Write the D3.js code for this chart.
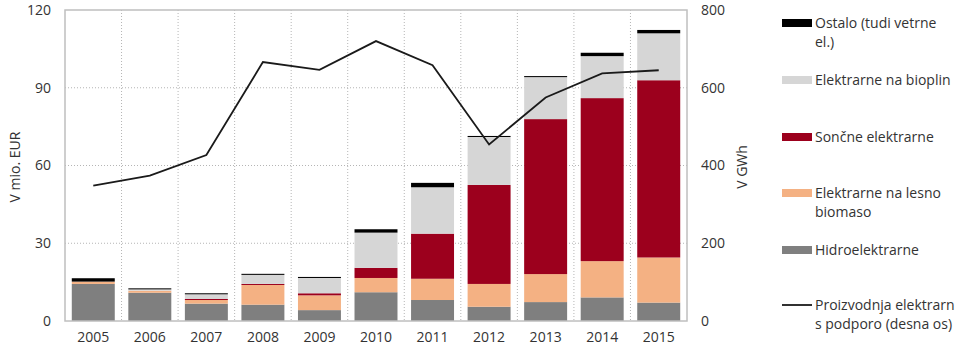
<!DOCTYPE html>
<meta charset="utf-8">
<script src="https://d3js.org/d3.v7.min.js"></script>
<style>
  body { margin: 0; background: #fff; }
  text { font-family: "Open Sans", sans-serif; fill: #333; }
</style>
<div id="chart"></div>
<script>

    // data (bars in mio. EUR, line in GWh)
    var years = ["2005", "2006", "2007", "2008", "2009", "2010", "2011", "2012", "2013", "2014", "2015"];
    var hydro   = [14.3, 10.9, 6.7, 6.3, 4.2, 11.1, 8.1, 5.5, 7.3, 9.1, 7.1];
    var biomass = [0.9, 0.8, 1.4, 7.6, 5.7, 5.5, 8.2, 8.8, 10.8, 14.0, 17.4];
    var solar   = [0, 0, 0.4, 0.4, 0.8, 3.9, 17.4, 38.2, 59.8, 62.9, 68.4];
    var biogas  = [0, 0.5, 1.8, 3.5, 5.9, 13.6, 17.9, 18.5, 16.2, 16.2, 18.1];
    var other   = [1.3, 0.4, 0.4, 0.4, 0.4, 1.3, 1.7, 0.4, 0.4, 1.3, 1.3];
    var production = [348, 374, 427, 666, 646, 720, 658, 454, 575, 637, 645];

    var leftTicks = [0, 30, 60, 90, 120];
    var rightTicks = [0, 200, 400, 600, 800];

    var seriesKeys = ["hydro", "biomass", "solar", "biogas", "other"];
    var colors = {hydro: "#7f7f7f", biomass: "#f4b183", solar: "#9c001d", biogas: "#d6d6d6", other: "#000000"};

    var legendItems = [
        {key: "other", lines: ["Ostalo (tudi vetrne", "el.)"], y: 23},
        {key: "biogas", lines: ["Elektrarne na bioplin"], y: 80},
        {key: "solar", lines: ["Sončne elektrarne"], y: 137},
        {key: "biomass", lines: ["Elektrarne na lesno", "biomaso"], y: 193},
        {key: "hydro", lines: ["Hidroelektrarne"], y: 250},
        {key: "line", lines: ["Proizvodnja elektrarn", "s podporo (desna os)"], y: 305}
    ];

    var table = years.map(function(y, i) {
        return {year: y, hydro: hydro[i], biomass: biomass[i], solar: solar[i], biogas: biogas[i], other: other[i], production: production[i]};
    });

    var W = 960, H = 364;
    var plot = {left: 65, right: 687, top: 10, bottom: 321};

    var svg = d3.select("#chart").append("svg")
        .attr("width", W)
        .attr("height", H);

    var x = d3.scaleBand()
        .domain(years)
        .range([plot.left, plot.right])
        .paddingInner(0.24)
        .paddingOuter(0.12);

    var y = d3.scaleLinear().domain([0, 120]).range([plot.bottom, plot.top]);
    var y2 = d3.scaleLinear().domain([0, 800]).range([plot.bottom, plot.top]);

    // grid
    var grid = svg.append("g");
    grid.selectAll(".hg")
        .data(leftTicks.slice(1, -1))
        .enter().append("line")
        .attr("x1", plot.left).attr("x2", plot.right)
        .attr("y1", function(d) { return y(d); })
        .attr("y2", function(d) { return y(d); })
        .attr("stroke", "#b5b5b5")
        .attr("stroke-dasharray", "1,2");
    grid.selectAll(".vg")
        .data(years.slice(1))
        .enter().append("line")
        .attr("x1", function(d) { return x(d) - x.step() * x.paddingInner() / 2; })
        .attr("x2", function(d) { return x(d) - x.step() * x.paddingInner() / 2; })
        .attr("y1", plot.top).attr("y2", plot.bottom)
        .attr("stroke", "#b5b5b5")
        .attr("stroke-dasharray", "1,2");

    // stacked bars
    var stacked = d3.stack().keys(seriesKeys)(table);
    svg.append("g").selectAll("g")
        .data(stacked)
        .enter().append("g")
        .attr("fill", function(d) { return colors[d.key]; })
        .selectAll("rect")
        .data(function(d) { return d; })
        .enter().append("rect")
        .attr("x", function(d) { return x(d.data.year); })
        .attr("width", x.bandwidth())
        .attr("y", function(d) { return y(d[1]); })
        .attr("height", function(d) { return y(d[0]) - y(d[1]); });

    // frame
    svg.append("rect")
        .attr("x", plot.left).attr("y", plot.top)
        .attr("width", plot.right - plot.left)
        .attr("height", plot.bottom - plot.top)
        .attr("fill", "none")
        .attr("stroke", "#bfbfbf")
        .attr("stroke-width", 1.5);

    // line on right axis
    var line = d3.line()
        .x(function(d) { return x(d.year) + x.bandwidth() / 2; })
        .y(function(d) { return y2(d.production); });
    svg.append("path")
        .datum(table)
        .attr("d", line)
        .attr("fill", "none")
        .attr("stroke", "#1a1a1a")
        .attr("stroke-width", 1.8);

    // axes
    var leftAxis = svg.append("g")
        .attr("transform", "translate(" + plot.left + ",0)")
        .call(d3.axisLeft(y).tickValues(leftTicks).tickSize(0).tickPadding(14));
    var rightAxis = svg.append("g")
        .attr("transform", "translate(" + plot.right + ",0)")
        .call(d3.axisRight(y2).tickValues(rightTicks).tickSize(0).tickPadding(14));
    var bottomAxis = svg.append("g")
        .attr("transform", "translate(0," + plot.bottom + ")")
        .call(d3.axisBottom(x).tickSize(0).tickPadding(11));
    [leftAxis, rightAxis, bottomAxis].forEach(function(a) {
        a.select(".domain").remove();
        a.selectAll("text").style("font-size", "14px").style("font-family", "Open Sans").attr("fill", "#333");
    });

    // axis titles
    svg.append("text")
        .attr("transform", "translate(20," + 167 + ")rotate(-90)")
        .attr("text-anchor", "middle")
        .style("font-size", "14px")
        .text("V mio. EUR");
    svg.append("text")
        .attr("transform", "translate(747," + 167 + ")rotate(-90)")
        .attr("text-anchor", "middle")
        .style("font-size", "14px")
        .text("V GWh");

    // legend
    var legend = svg.append("g");
    legendItems.forEach(function(item) {
        if (item.key == "line") {
            legend.append("line")
                .attr("x1", 782).attr("x2", 812)
                .attr("y1", item.y).attr("y2", item.y)
                .attr("stroke", "#1a1a1a")
                .attr("stroke-width", 1.8);
        } else {
            legend.append("rect")
                .attr("x", 782).attr("y", item.y - 4)
                .attr("width", 30).attr("height", 8)
                .attr("fill", colors[item.key]);
        }
        item.lines.forEach(function(t, j) {
            legend.append("text")
                .attr("x", 815)
                .attr("y", item.y + j * 19)
                .attr("dy", "0.35em")
                .style("font-size", "14px")
                .text(t);
        });
    });

</script>
